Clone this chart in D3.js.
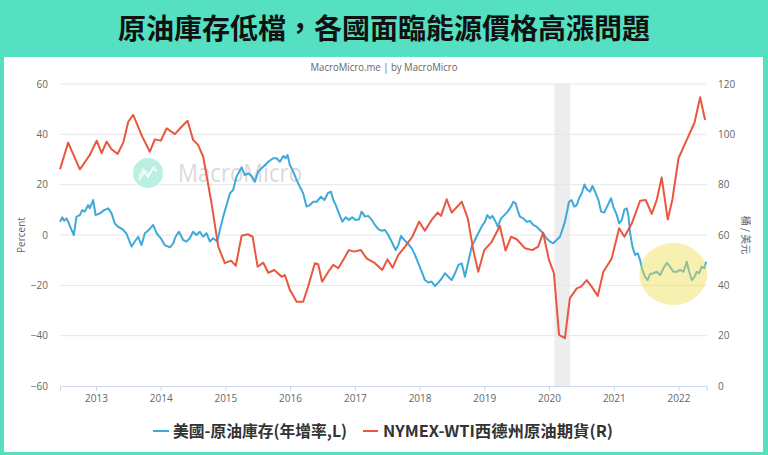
<!DOCTYPE html>
<html><head><meta charset="utf-8">
<script src="https://cdn.jsdelivr.net/npm/d3@7"></script>
<style>body{margin:0;background:#55e0c1;overflow:hidden} svg{display:block}</style>
</head><body>
<svg id="chart" width="768" height="455"></svg>
<script>
const titleText = "原油庫存低檔，各國面臨能源價格高漲問題";
const sourceText = "MacroMicro.me | by MacroMicro";
const watermarkText = "MacroMicro";
const seriesNames = ["美國-原油庫存(年增率,L)", "NYMEX-WTI西德州原油期貨(R)"];
const leftAxisTitle = "Percent";
const rightAxisTitle = "桶 / 美元";
const leftTicks = [-60, -40, -20, 0, 20, 40, 60];
const rightTicks = [0, 20, 40, 60, 80, 100, 120];
const yearTicks = ["2013","2014","2015","2016","2017","2018","2019","2020","2021","2022"];
const xDomain = ["2012-06-12", "2022-06-09"];
const recessionBand = ["2020-02-01", "2020-04-30"];
const highlightWindow = ["2021-05-25", "2022-06-12"];

const inventoryDates = [
"2012-06-12","2012-06-25","2012-07-06","2012-07-19","2012-08-01","2012-08-16","2012-08-29","2012-09-13","2012-10-02","2012-10-15",
"2012-10-30","2012-11-18","2012-11-27","2012-12-16","2012-12-30","2013-01-23","2013-02-16","2013-03-11","2013-03-30","2013-04-17",
"2013-05-06","2013-06-04","2013-06-23","2013-07-21","2013-08-08","2013-08-27","2013-09-15","2013-10-04","2013-10-26","2013-11-20",
"2013-12-09","2014-01-02","2014-01-24","2014-02-22","2014-03-13","2014-03-26","2014-04-14","2014-05-08","2014-05-27","2014-06-14",
"2014-07-03","2014-07-22","2014-08-10","2014-08-29","2014-09-17","2014-10-06","2014-10-24","2014-11-16","2014-12-01","2014-12-20",
"2015-01-08","2015-01-27","2015-02-14","2015-03-05","2015-04-03","2015-04-21","2015-05-10","2015-05-29","2015-06-17","2015-07-05",
"2015-08-03","2015-08-31","2015-09-28","2015-10-17","2015-11-05","2015-11-24","2015-12-07","2015-12-18","2015-12-31","2016-01-19",
"2016-02-07","2016-02-25","2016-03-15","2016-04-03","2016-04-22","2016-05-11","2016-05-30","2016-06-24","2016-07-13","2016-08-01",
"2016-08-19","2016-09-01","2016-09-15","2016-10-03","2016-10-22","2016-11-10","2016-11-28","2016-12-17","2017-01-05","2017-01-24",
"2017-02-08","2017-02-27","2017-03-17","2017-04-06","2017-04-24","2017-05-13","2017-06-01","2017-06-20","2017-07-08","2017-07-27",
"2017-08-19","2017-09-03","2017-09-18","2017-10-07","2017-10-26","2017-11-18","2017-12-06","2017-12-25","2018-01-13","2018-01-31",
"2018-02-19","2018-03-10","2018-03-29","2018-04-17","2018-05-06","2018-05-24","2018-06-12","2018-07-01","2018-07-20","2018-08-08",
"2018-08-27","2018-09-14","2018-10-03","2018-10-22","2018-11-09","2018-11-28","2018-12-17","2019-01-05","2019-01-18","2019-02-02",
"2019-02-15","2019-03-03","2019-03-18","2019-04-06","2019-04-24","2019-05-13","2019-06-01","2019-06-14","2019-06-27","2019-07-08",
"2019-07-21","2019-08-09","2019-08-28","2019-09-16","2019-10-04","2019-10-23","2019-11-11","2019-11-29","2019-12-18","2020-01-07",
"2020-01-25","2020-02-13","2020-03-03","2020-03-16","2020-03-31","2020-04-10","2020-04-23","2020-05-08","2020-05-23","2020-06-06",
"2020-06-19","2020-07-04","2020-07-19","2020-08-01","2020-08-20","2020-09-02","2020-09-17","2020-10-06","2020-10-21","2020-11-08",
"2020-11-28","2020-12-16","2020-12-29","2021-01-18","2021-01-31","2021-02-15","2021-03-02","2021-03-15","2021-03-25","2021-04-03",
"2021-04-16","2021-05-01","2021-05-16","2021-05-29","2021-06-11","2021-06-26","2021-07-11","2021-07-24","2021-08-12","2021-08-31",
"2021-09-19","2021-10-08","2021-10-27","2021-11-14","2021-12-03","2021-12-22","2022-01-10","2022-01-29","2022-02-17","2022-03-02",
"2022-03-17","2022-04-01","2022-04-14","2022-04-27","2022-05-12","2022-05-27","2022-06-05"
];
const inventoryValues = [
5.3,7.0,5.7,6.6,4.6,2.0,0.0,7.3,7.9,9.9,
9.3,11.9,10.6,13.9,7.9,8.6,9.9,10.6,8.6,4.6,
3.3,2.0,0.4,-4.6,-2.6,-0.7,-4.0,0.7,2.0,4.0,
0.7,-1.3,-4.0,-4.9,-3.3,-0.7,1.3,-2.0,-2.6,-1.3,
1.3,0.0,1.3,-0.7,0.7,-2.6,-1.3,-2.6,2.0,7.3,
11.9,16.6,17.9,23.2,26.9,23.8,24.5,23.4,21.2,25.2,
27.1,29.1,30.5,30.5,29.1,31.4,30.5,31.8,27.8,25.2,
21.9,19.2,16.6,11.3,11.9,13.2,13.2,15.2,13.9,16.6,
17.2,13.9,11.9,8.6,5.3,7.0,6.0,7.0,6.0,6.2,
9.3,7.3,7.6,6.0,4.0,2.3,1.7,2.0,0.0,-2.6,
-6.0,-4.0,-0.4,-2.0,-3.3,-5.3,-7.9,-11.3,-14.6,-17.9,
-18.9,-18.5,-20.3,-18.9,-17.2,-15.2,-16.6,-17.9,-15.2,-11.9,
-11.3,-16.6,-10.6,-4.6,-2.0,0.7,3.3,5.3,7.9,6.6,
7.6,5.7,3.3,6.6,7.9,9.3,11.3,13.2,12.6,9.9,
7.3,6.6,5.3,5.6,4.0,3.3,2.0,0.7,-1.3,-2.6,
-3.3,-2.0,-0.7,2.0,5.3,8.6,13.2,13.9,11.3,11.9,
14.6,16.6,20.1,18.2,17.2,19.5,17.2,13.9,9.3,8.9,
11.9,14.6,11.3,7.9,4.6,6.0,10.2,10.6,7.3,0.7,
-4.6,-7.9,-7.3,-9.9,-13.9,-16.6,-17.9,-15.5,-15.2,-14.6,
-15.9,-13.2,-11.0,-12.6,-14.6,-14.6,-13.9,-14.6,-10.6,-14.6,
-17.9,-16.6,-14.6,-15.2,-12.6,-13.2,-10.6
];

const wtiDates = [
"2012-06-12","2012-07-28","2012-10-02","2012-11-27","2013-01-05","2013-02-02","2013-03-02","2013-03-30","2013-05-03","2013-06-04",
"2013-07-02","2013-07-30","2013-09-19","2013-11-01","2013-11-29","2014-01-02","2014-02-04","2014-03-22","2014-04-29","2014-06-02",
"2014-07-03","2014-07-31","2014-08-29","2014-10-15","2014-11-22","2014-12-29","2015-02-02","2015-03-01","2015-04-03","2015-05-07",
"2015-06-04","2015-07-02","2015-08-03","2015-08-31","2015-10-04","2015-11-15","2015-12-03","2015-12-31","2016-02-07","2016-03-15",
"2016-04-12","2016-05-20","2016-06-08","2016-06-30","2016-08-04","2016-09-01","2016-09-29","2016-10-27","2016-11-28","2016-12-28",
"2017-02-04","2017-03-08","2017-04-24","2017-06-04","2017-07-04","2017-08-02","2017-09-03","2017-10-11","2017-11-21","2017-12-29",
"2018-01-31","2018-03-10","2018-04-13","2018-05-02","2018-06-03","2018-07-01","2018-08-27","2018-09-30","2018-10-31","2018-11-28",
"2019-01-01","2019-02-12","2019-03-30","2019-05-01","2019-06-01","2019-07-03","2019-08-19","2019-09-29","2019-11-01","2019-11-29",
"2020-01-01","2020-01-29","2020-02-27","2020-03-31","2020-04-28","2020-06-06","2020-06-30","2020-08-01","2020-08-29","2020-10-02",
"2020-11-03","2020-12-20","2021-01-31","2021-03-02","2021-04-13","2021-05-29","2021-06-30","2021-08-03","2021-08-31","2021-09-28",
"2021-11-01","2021-11-27","2022-01-01","2022-02-08","2022-04-01","2022-05-03","2022-05-31"
];
const wtiValues = [
86.1,96.7,86.1,91.8,97.5,92.5,97.1,94.1,92.2,96.7,
105.0,107.7,99.1,93.1,98.0,97.5,102.4,100.1,103.0,105.4,
97.8,95.8,91.1,72.6,55.4,48.8,49.8,47.8,59.7,60.3,
59.3,47.4,49.0,45.0,46.1,43.4,44.1,38.2,33.5,33.5,
39.5,48.8,48.4,41.4,45.4,48.1,46.8,50.1,54.0,53.4,
54.0,50.7,48.8,46.1,50.3,47.0,52.1,55.4,59.3,65.3,
61.7,66.0,68.9,67.6,74.2,68.9,73.2,66.6,54.0,45.4,
54.0,57.3,63.6,53.8,59.3,58.3,54.7,54.0,55.4,60.9,
50.1,44.8,20.3,19.0,34.9,38.8,39.5,42.1,39.5,35.8,
45.4,50.7,62.7,59.3,64.7,73.6,73.9,68.4,73.9,82.9,
66.2,73.9,90.5,96.5,104.6,114.7,105.7
];

const colors = { bg: "#55e0c1", blue: "#3fa9d9", red: "#e9573f", grid: "#e6e6e6", axis: "#ccd6eb", label: "#666666" };
const parse = d3.timeParse("%Y-%m-%d");
const inventory = inventoryDates.map((d, i) => ({ date: parse(d), value: inventoryValues[i] }));
const wti = wtiDates.map((d, i) => ({ date: parse(d), value: wtiValues[i] }));

const svg = d3.select("#chart");
const plot = { left: 60, right: 706.7, top: 84, bottom: 386 };
const font = "'Open Sans','Noto Sans CJK TC',sans-serif";

svg.append("rect").attr("width", 768).attr("height", 455).attr("fill", colors.bg);
svg.append("rect").attr("x", 4).attr("y", 57).attr("width", 759).attr("height", 395).attr("fill", "#ffffff");

svg.append("text").attr("x", 384).attr("y", 39).attr("text-anchor", "middle")
  .attr("font-family", "'Noto Sans CJK TC',sans-serif").attr("font-weight", 700).attr("font-size", 28)
  .attr("fill", "#111").text(titleText);

svg.append("text").attr("x", 384).attr("y", 71).attr("text-anchor", "middle")
  .attr("font-family", font).attr("font-size", 11).attr("fill", "#666")
  .attr("textLength", 147).attr("lengthAdjust", "spacingAndGlyphs").text(sourceText);

const x = d3.scaleTime().domain(xDomain.map(parse)).range([plot.left, plot.right]);
const yL = d3.scaleLinear().domain([-60, 60]).range([plot.bottom, plot.top]);
const yR = d3.scaleLinear().domain([0, 120]).range([plot.bottom, plot.top]);

// recession band
svg.append("rect").attr("x", x(parse(recessionBand[0]))).attr("y", plot.top)
  .attr("width", x(parse(recessionBand[1])) - x(parse(recessionBand[0])))
  .attr("height", plot.bottom - plot.top).attr("fill", "#ededed");

// gridlines
svg.append("g").selectAll("line").data(leftTicks.filter(t => t !== -60)).join("line")
  .attr("x1", plot.left).attr("x2", plot.right).attr("y1", d => yL(d)).attr("y2", d => yL(d))
  .attr("stroke", colors.grid).attr("stroke-width", 1);

// watermark
const wm = svg.append("g");
wm.append("circle").attr("cx", 148).attr("cy", 173).attr("r", 15).attr("fill", "#b9f0e2");
wm.append("path").attr("d", "M139,180 L144,172 L148,177 L153,168 L157,171")
  .attr("fill", "none").attr("stroke", "#fff").attr("stroke-width", 1.6);
wm.append("path").attr("d", "M139,176 L143,169 L149,174 L155,166")
  .attr("fill", "none").attr("stroke", "#fff").attr("stroke-width", 1.2).attr("opacity", 0.8);
wm.append("text").attr("x", 178).attr("y", 182).attr("font-family", font).attr("font-size", 25)
  .attr("fill", "#dadada").attr("textLength", 124).attr("lengthAdjust", "spacingAndGlyphs").text(watermarkText);

// axes
const gx = svg.append("g").attr("transform", `translate(0,${plot.bottom})`)
  .call(d3.axisBottom(x).tickValues(yearTicks.map(y => new Date(+y, 0, 1))).tickFormat(d3.timeFormat("%Y")).tickSize(5).tickPadding(4));
gx.select(".domain").attr("stroke", colors.axis);
gx.selectAll(".tick line").attr("stroke", colors.axis);
gx.selectAll("text").attr("font-family", font).attr("font-size", 10).attr("fill", colors.label);

const gl = svg.append("g").attr("transform", `translate(52,0)`)
  .call(d3.axisLeft(yL).tickValues(leftTicks).tickSize(0).tickPadding(4));
gl.select(".domain").remove();
gl.selectAll("text").attr("font-family", font).attr("font-size", 10).attr("fill", colors.label);

const gr = svg.append("g").attr("transform", `translate(714,0)`)
  .call(d3.axisRight(yR).tickValues(rightTicks).tickSize(0).tickPadding(4));
gr.select(".domain").remove();
gr.selectAll("text").attr("font-family", font).attr("font-size", 10).attr("fill", colors.label);

svg.append("text").attr("transform", `translate(25,${(plot.top + plot.bottom) / 2}) rotate(-90)`)
  .attr("text-anchor", "middle").attr("font-family", font).attr("font-size", 10).attr("fill", colors.label).text(leftAxisTitle);
svg.append("text").attr("transform", `translate(742,${(plot.top + plot.bottom) / 2}) rotate(90)`)
  .attr("text-anchor", "middle").attr("font-family", "'Noto Sans CJK TC',sans-serif").attr("font-size", 10).attr("fill", colors.label).text(rightAxisTitle);

// series
const lineL = d3.line().x(d => x(d.date)).y(d => yL(d.value));
const lineR = d3.line().x(d => x(d.date)).y(d => yR(d.value));
svg.append("path").datum(inventory).attr("d", lineL).attr("fill", "none")
  .attr("stroke", colors.blue).attr("stroke-width", 2).attr("stroke-linejoin", "round");
svg.append("path").datum(wti).attr("d", lineR).attr("fill", "none")
  .attr("stroke", colors.red).attr("stroke-width", 2).attr("stroke-linejoin", "round");

// highlight ellipse
const hx0 = x(parse(highlightWindow[0])), hx1 = x(parse(highlightWindow[1]));
svg.append("ellipse").attr("cx", (hx0 + hx1) / 2).attr("cy", yL(-15.5))
  .attr("rx", (hx1 - hx0) / 2).attr("ry", 31)
  .attr("fill", "rgb(240,222,80)").attr("fill-opacity", 0.45);

// legend
const legend = svg.append("g").attr("font-family", "'Noto Sans CJK TC',sans-serif").attr("font-weight", 700).attr("font-size", 16).attr("fill", "#333");
legend.append("line").attr("x1", 153).attr("x2", 169).attr("y1", 431).attr("y2", 431).attr("stroke", colors.blue).attr("stroke-width", 2);
legend.append("text").attr("x", 173).attr("y", 437).attr("textLength", 174).attr("lengthAdjust", "spacingAndGlyphs").text(seriesNames[0]);
legend.append("line").attr("x1", 363).attr("x2", 378).attr("y1", 431).attr("y2", 431).attr("stroke", colors.red).attr("stroke-width", 2);
legend.append("text").attr("x", 383).attr("y", 437).attr("textLength", 230).attr("lengthAdjust", "spacingAndGlyphs").text(seriesNames[1]);
</script>
</body></html>
